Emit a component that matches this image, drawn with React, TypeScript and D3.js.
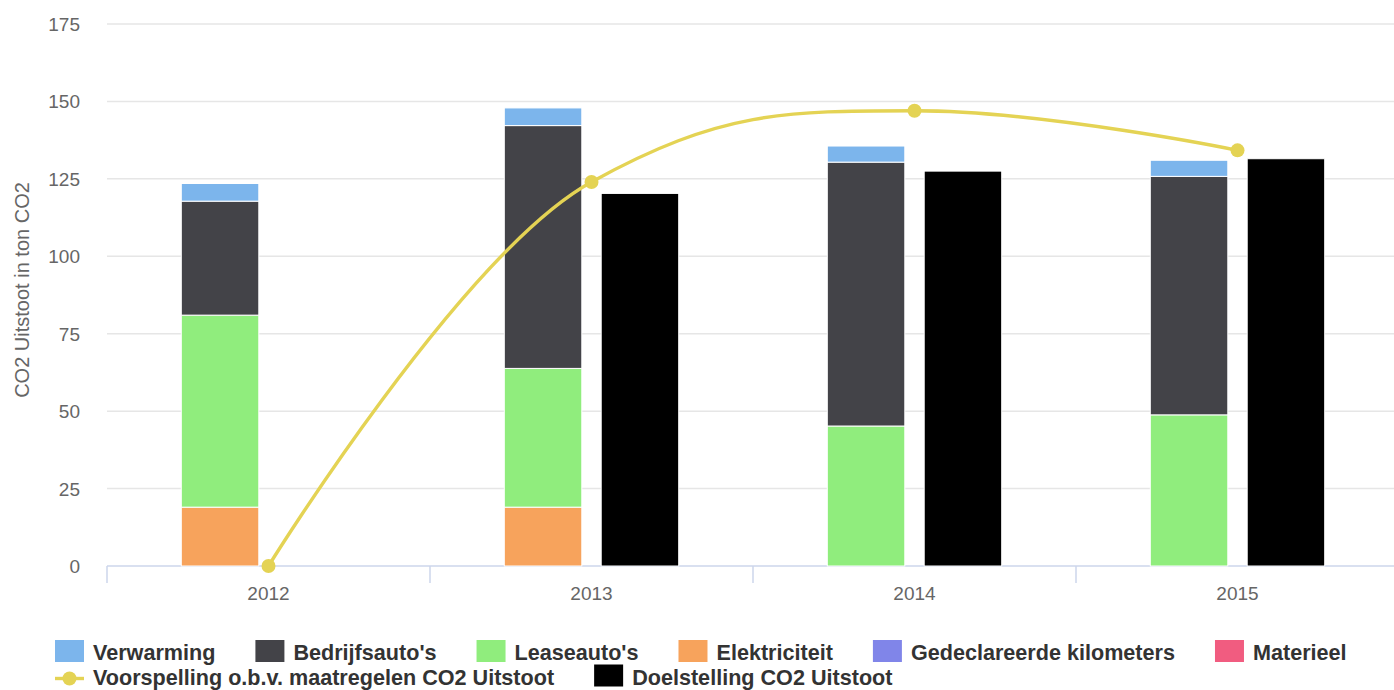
import React from 'react';
import * as d3 from 'd3';

const categories = ['2012', '2013', '2014', '2015'];
const verwarming = [5.7, 5.7, 5.2, 5.2];
const bedrijfsautos = [36.8, 78.4, 85.2, 77.0];
const leaseautos = [62.0, 44.8, 45.2, 48.8];
const elektriciteit = [19.0, 19.0, 0, 0];
const gedeclareerdeKm = [0, 0, 0, 0];
const materieel = [0, 0, 0, 0];
const voorspelling = [0, 124.0, 147.0, 134.2];
const doelstelling: (number | null)[] = [null, 120.3, 127.5, 131.5];
const yTicks = [0, 25, 50, 75, 100, 125, 150, 175];

const stackSeries = [
  { name: 'Verwarming', values: verwarming, color: '#7cb5ec' },
  { name: "Bedrijfsauto's", values: bedrijfsautos, color: '#434348' },
  { name: "Leaseauto's", values: leaseautos, color: '#90ed7d' },
  { name: 'Elektriciteit', values: elektriciteit, color: '#f7a35c' },
  { name: 'Gedeclareerde kilometers', values: gedeclareerdeKm, color: '#8085e9' },
  { name: 'Materieel', values: materieel, color: '#f15c80' },
];

const FONT = '"Liberation Sans", Arial, Helvetica, sans-serif';
const LEGEND_SIZE = 21.6;

function measure(text: string, font: string): number {
  const c = document.createElement('canvas');
  const ctx = c.getContext('2d');
  if (!ctx) return text.length * 10;
  ctx.font = font;
  return ctx.measureText(text).width;
}

function splinePath(pts: [number, number][]): string {
  const smoothing = 1.5;
  const denom = smoothing + 1;
  const conts = pts.map((p, i) => {
    if (i === 0 || i === pts.length - 1) return { lx: p[0], ly: p[1], rx: p[0], ry: p[1] };
    const [x, y] = p;
    const [px, py] = pts[i - 1];
    const [nx, ny] = pts[i + 1];
    const lcx = (smoothing * x + px) / denom;
    let lcy = (smoothing * y + py) / denom;
    const rcx = (smoothing * x + nx) / denom;
    let rcy = (smoothing * y + ny) / denom;
    if (rcx !== lcx) {
      const corr = ((rcy - lcy) * (rcx - x)) / (rcx - lcx) + y - rcy;
      lcy += corr;
      rcy += corr;
    }
    if (lcy > py && lcy > y) { lcy = Math.max(py, y); rcy = 2 * y - lcy; }
    else if (lcy < py && lcy < y) { lcy = Math.min(py, y); rcy = 2 * y - lcy; }
    if (rcy > ny && rcy > y) { rcy = Math.max(ny, y); lcy = 2 * y - rcy; }
    else if (rcy < ny && rcy < y) { rcy = Math.min(ny, y); lcy = 2 * y - rcy; }
    return { lx: lcx, ly: lcy, rx: rcx, ry: rcy };
  });
  const path = d3.path();
  path.moveTo(pts[0][0], pts[0][1]);
  for (let i = 1; i < pts.length; i++) {
    path.bezierCurveTo(conts[i - 1].rx, conts[i - 1].ry, conts[i].lx, conts[i].ly, pts[i][0], pts[i][1]);
  }
  return path.toString();
}

export default function App() {
  const W = 1394, H = 690;
  const left = 107, right = 1399, top = 24, bottom = 566;
  const y = d3.scaleLinear().domain([0, 175]).range([bottom, top]);
  const x = d3.scaleBand<string>().domain(categories).range([left, right]).paddingInner(0).paddingOuter(0);
  const bw = x.bandwidth();
  const groupPad = 0.2 * bw;
  const colW = (bw - 2 * groupPad) / 2;
  const pointPad = 0.1 * colW;
  const barW = colW - 2 * pointPad;
  const col = (cat: string, k: number) => (x(cat) as number) + groupPad + k * colW + pointPad;
  const center = (cat: string) => (x(cat) as number) + bw / 2;

  const order = [...stackSeries].reverse();
  const rects: React.ReactNode[] = [];
  categories.forEach((cat, ci) => {
    let base = 0;
    order.forEach((s) => {
      const v = s.values[ci];
      if (v > 0) {
        const y0 = y(base), y1 = y(base + v);
        rects.push(
          <rect key={s.name + cat} x={col(cat, 0)} y={y1} width={barW} height={y0 - y1}
            fill={s.color} stroke="#ffffff" strokeWidth={1} />
        );
      }
      base += v;
    });
    const d = doelstelling[ci];
    if (d != null) {
      rects.push(
        <rect key={'doel' + cat} x={col(cat, 1)} y={y(d)} width={barW} height={y(0) - y(d)}
          fill="#000000" stroke="#ffffff" strokeWidth={1} />
      );
    }
  });

  const linePts: [number, number][] = categories.map((c, i) => [center(c), y(voorspelling[i])]);

  const legendFont = `bold ${LEGEND_SIZE}px ${FONT}`;
  const symW = 29, symH = 22, textGap = 9, itemGap = 40;
  const legendRows = [
    stackSeries.map((s) => ({ name: s.name, color: s.color, type: 'box' })),
    [
      { name: 'Voorspelling o.b.v. maatregelen CO2 Uitstoot', color: '#e4d354', type: 'line' },
      { name: 'Doelstelling CO2 Uitstoot', color: '#000000', type: 'box' },
    ],
  ];
  const rowBaselines = [660, 684.5];
  const legendItems: React.ReactNode[] = [];
  legendRows.forEach((row, ri) => {
    let lx = 55;
    const bl = rowBaselines[ri];
    row.forEach((it) => {
      const tw = measure(it.name, legendFont);
      if (it.type === 'box') {
        legendItems.push(<rect key={'ls' + it.name} x={lx} y={bl - 20} width={symW} height={symH} fill={it.color} />);
      } else {
        const cy = bl - 6;
        legendItems.push(
          <g key={'ls' + it.name}>
            <line x1={lx} x2={lx + symW} y1={cy} y2={cy} stroke={it.color} strokeWidth={3.4} />
            <circle cx={lx + symW / 2} cy={cy} r={7} fill={it.color} />
          </g>
        );
      }
      legendItems.push(
        <text key={'lt' + it.name} x={lx + symW + textGap} y={bl} fontFamily={FONT} fontSize={LEGEND_SIZE}
          fontWeight="bold" fill="#333333">{it.name}</text>
      );
      lx += symW + textGap + tw + itemGap;
    });
  });

  const boundaries = [...categories.map((c) => x(c) as number), right];

  return (
    <svg width={W} height={H} style={{ position: 'absolute', left: 0, top: 0, background: '#ffffff' }}
      fontFamily={FONT}>
      <rect x={0} y={0} width={W} height={H} fill="#ffffff" />
      {yTicks.filter((t) => t > 0).map((t) => (
        <line key={'g' + t} x1={left} x2={right} y1={y(t)} y2={y(t)} stroke="#e6e6e6" strokeWidth={1.5} />
      ))}
      {yTicks.map((t) => (
        <text key={'yt' + t} x={80} y={y(t) + 7} textAnchor="end" fontSize={19} fill="#666666">{t}</text>
      ))}
      <text transform="translate(29,290) rotate(-90)" textAnchor="middle" fontSize={20} fill="#666666">
        CO2 Uitstoot in ton CO2
      </text>
      <line x1={left} x2={right} y1={bottom} y2={bottom} stroke="#ccd6eb" strokeWidth={1.5} />
      {boundaries.map((b, i) => (
        <line key={'tk' + i} x1={b} x2={b} y1={bottom} y2={bottom + 17} stroke="#ccd6eb" strokeWidth={1.5} />
      ))}
      {categories.map((c) => (
        <text key={'xl' + c} x={center(c)} y={600} textAnchor="middle" fontSize={19} fill="#666666">{c}</text>
      ))}
      {rects}
      <path d={splinePath(linePts)} fill="none" stroke="#e4d354" strokeWidth={3.4} />
      {linePts.map((p, i) => (
        <circle key={'m' + i} cx={p[0]} cy={p[1]} r={7} fill="#e4d354" />
      ))}
      {legendItems}
    </svg>
  );
}
